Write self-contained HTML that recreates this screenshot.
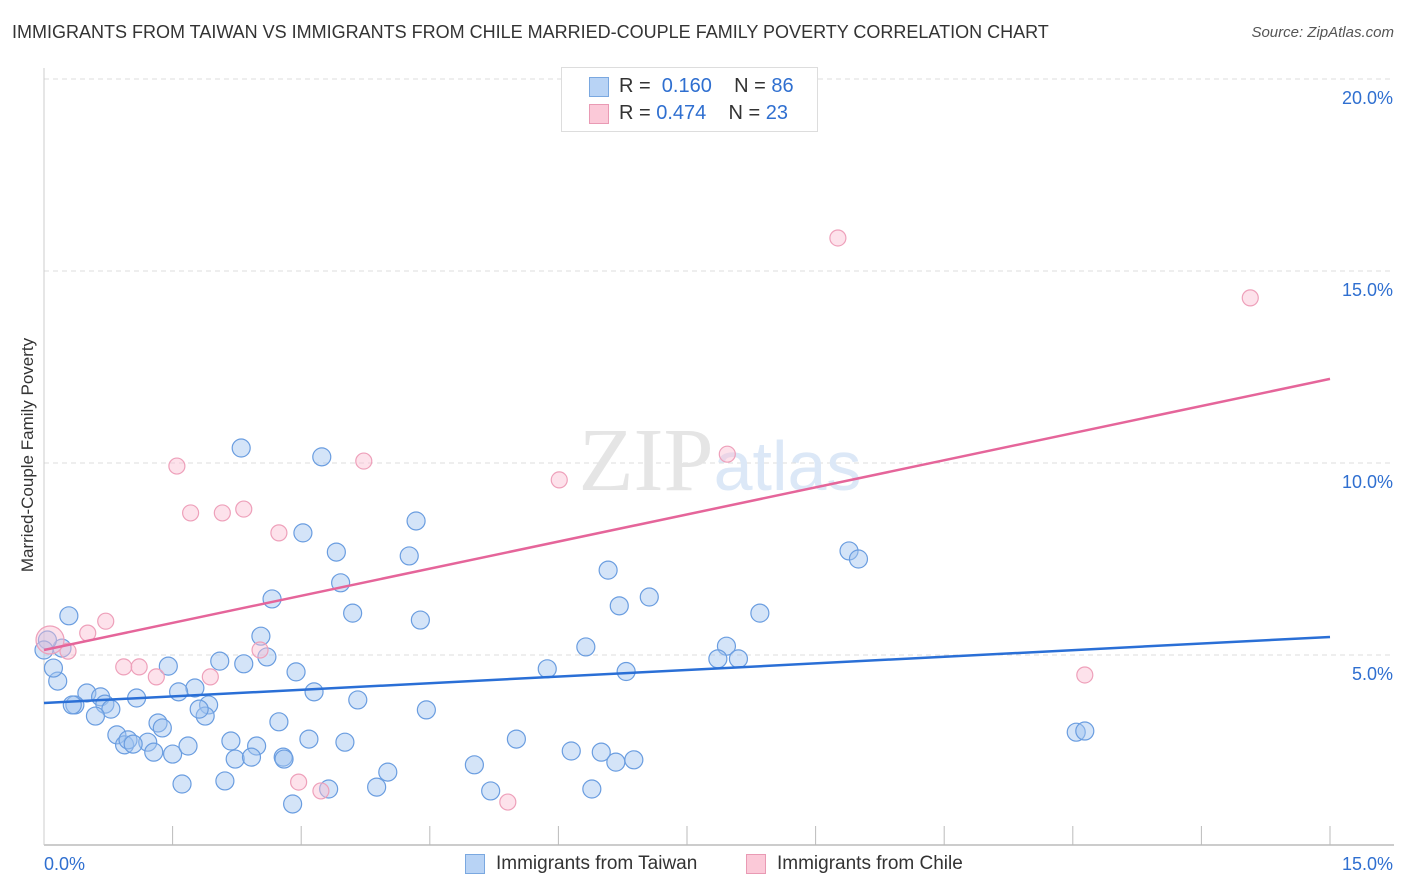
<!DOCTYPE html>
<html><head><meta charset="utf-8"><style>
body{margin:0;background:#fff;font-family:"Liberation Sans",sans-serif;}
#wrap{position:relative;width:1406px;height:892px;overflow:hidden;}
.t{position:absolute;white-space:nowrap;}
</style></head><body>
<div id="wrap">
<div class="t" style="left:12px;top:22px;font-size:18px;color:#333;">IMMIGRANTS FROM TAIWAN VS IMMIGRANTS FROM CHILE MARRIED-COUPLE FAMILY POVERTY CORRELATION CHART</div>
<div class="t" style="right:12px;top:24px;font-size:15px;color:#555;font-style:italic;">Source: ZipAtlas.com</div>
<div class="t" style="left:28px;top:455px;font-size:17px;color:#333;transform:translate(-50%,-50%) rotate(-90deg);">Married-Couple Family Poverty</div>
<svg id="svg" width="1406" height="892" style="position:absolute;left:0;top:0;"></svg>
<div style="position:absolute;left:561px;top:67px;width:255px;height:63px;border:1px solid #ddd;background:#fff;">
 <div style="position:absolute;left:27px;top:9px;width:18px;height:18px;background:#b8d3f5;border:1px solid #7aa8e0;"></div>
 <div class="t" style="left:57px;top:7px;font-size:20px;color:#333;">R = <span style="color:#2f6fd0">&nbsp;0.160</span>&nbsp;&nbsp;&nbsp; N = <span style="color:#2f6fd0">86</span></div>
 <div style="position:absolute;left:27px;top:36px;width:18px;height:18px;background:#fbc9d8;border:1px solid #e99ab4;"></div>
 <div class="t" style="left:57px;top:34px;font-size:20px;color:#333;">R = <span style="color:#2f6fd0">0.474</span>&nbsp;&nbsp;&nbsp; N = <span style="color:#2f6fd0">23</span></div>
</div>
<div style="position:absolute;left:465px;top:854px;width:18px;height:18px;background:#b8d3f5;border:1px solid #7aa8e0;"></div>
<div class="t" style="left:496px;top:853px;font-size:19px;color:#333;">Immigrants from Taiwan</div>
<div style="position:absolute;left:746px;top:854px;width:18px;height:18px;background:#fbc9d8;border:1px solid #e99ab4;"></div>
<div class="t" style="left:777px;top:853px;font-size:19px;color:#333;">Immigrants from Chile</div>
</div>
<script>
const xTickLabels=["0.0%","15.0%"];
const yTicks=[5,10,15,20];
const yTickLabels=["5.0%","10.0%","15.0%","20.0%"];
const taiwanX=[2.30,3.24,4.34,3.02,3.41,4.26,3.46,2.66,3.60,4.39,0.29,2.53,2.60,2.33,2.05,1.45,2.94,3.15,1.76,1.57,0.50,0.66,1.08,0.16,0.11,0.21,0.36,0.71,0.78,0.60,1.92,1.88,1.81,3.66,4.46,2.74,1.33,1.38,0.85,0.94,0.98,1.21,1.04,1.28,1.50,1.68,2.18,2.48,2.23,2.42,2.79,3.09,3.51,2.80,4.01,3.88,3.32,2.90,2.11,1.61,5.02,5.21,5.51,5.87,6.32,6.58,6.71,7.06,6.79,6.15,6.50,6.67,6.88,6.39,7.96,7.86,8.10,8.35,9.39,9.50,12.04,12.14,0.33,0.04,0.0];
const taiwanY=[10.39,10.16,8.49,8.18,7.68,7.58,6.88,6.46,6.09,5.91,6.02,5.49,4.95,4.77,4.84,4.71,4.56,4.04,4.14,4.04,4.01,3.91,3.88,4.32,4.66,5.18,3.70,3.72,3.59,3.41,3.70,3.41,3.59,3.83,3.57,3.26,3.23,3.10,2.92,2.66,2.79,2.73,2.68,2.47,2.42,2.63,2.76,2.63,2.29,2.34,2.34,2.81,2.73,2.29,1.95,1.56,1.51,1.12,1.72,1.64,2.14,1.46,2.81,4.64,5.21,7.21,6.28,6.51,4.57,2.50,2.47,2.21,2.27,1.51,5.23,4.90,4.90,6.09,7.71,7.50,2.99,3.02,3.70,5.39,5.13];
const chileX=[9.26,14.07,7.97,3.73,6.01,1.55,1.71,2.08,2.33,2.74,0.72,0.51,0.28,0.07,0.93,1.11,1.31,1.94,2.52,2.97,3.23,5.41,12.14];
const chileY=[15.86,14.30,10.23,10.05,9.56,9.92,8.70,8.70,8.80,8.18,5.88,5.57,5.10,5.39,4.69,4.69,4.43,4.43,5.13,1.69,1.46,1.17,4.48];
const taiwanTrend=[3.75,5.47];
const chileTrend=[5.13,12.19];
const xMax=15;
const X0=44,X1=1330,Y0=847,PX=38.4;
function sx(v){return X0+v/xMax*(X1-X0);}
function sy(v){return Y0-v*PX;}
const svg=document.getElementById('svg');const NS='http://www.w3.org/2000/svg';
function mk(tag,attrs){const e=document.createElementNS(NS,tag);for(const k in attrs)e.setAttribute(k,attrs[k]);svg.appendChild(e);return e;}
yTicks.forEach((t,i)=>{
 const g=mk('line',{x1:44,x2:1394,y1:sy(t),y2:sy(t),stroke:'#ddd','stroke-dasharray':'5,4'});
 
 
 const tx=mk('text',{x:1393,y:sy(t)+25,'text-anchor':'end','font-size':18,fill:'#2f6fd0','font-family':'Liberation Sans'});
 tx.textContent=yTickLabels[i];
 
 
});
const ax=mk('line',{x1:44,x2:1394,y1:845,y2:845,stroke:'#bbb','stroke-width':1.5});


const ay=mk('line',{x1:44,x2:44,y1:68,y2:845,stroke:'#ccc'});


for(let i=1;i<=10;i++){
 const tk=mk('line',{x1:sx(i*1.5),x2:sx(i*1.5),y1:826,y2:845,stroke:'#bbb'});
 
 
}
[[0,'start',44],[1,'end',1393]].forEach(([i,a,x])=>{
 const tx=mk('text',{x:x,y:870,'text-anchor':a,'font-size':18,fill:'#2f6fd0','font-family':'Liberation Sans'});
 tx.textContent=xTickLabels[i];
 
 
});
const wm=mk('text',{x:720,y:490,'text-anchor':'middle','font-size':90,fill:'#e5e5e5','font-family':'Liberation Serif'});
wm.innerHTML='ZIP<tspan font-family="Liberation Sans" font-size="70" fill="#dce8f7">atlas</tspan>';


taiwanX.forEach((v,i)=>{
 const c=mk('circle',{cx:sx(v),cy:sy(taiwanY[i]),r:9,fill:'rgba(160,195,240,0.45)',stroke:'#6a9de0','stroke-width':1.2});
 
 
});
chileX.forEach((v,i)=>{
 const c=mk('circle',{cx:sx(v),cy:sy(chileY[i]),r:i==13?14:8,fill:'rgba(250,190,210,0.45)',stroke:'#eea0ba','stroke-width':1.2});
 
 
});
const l1=mk('line',{x1:sx(0),y1:sy(taiwanTrend[0]),x2:sx(xMax),y2:sy(taiwanTrend[1]),stroke:'#2a6fd6','stroke-width':2.5});


const l2=mk('line',{x1:sx(0),y1:sy(chileTrend[0]),x2:sx(xMax),y2:sy(chileTrend[1]),stroke:'#e5659a','stroke-width':2.5});


</script>
</body></html>
